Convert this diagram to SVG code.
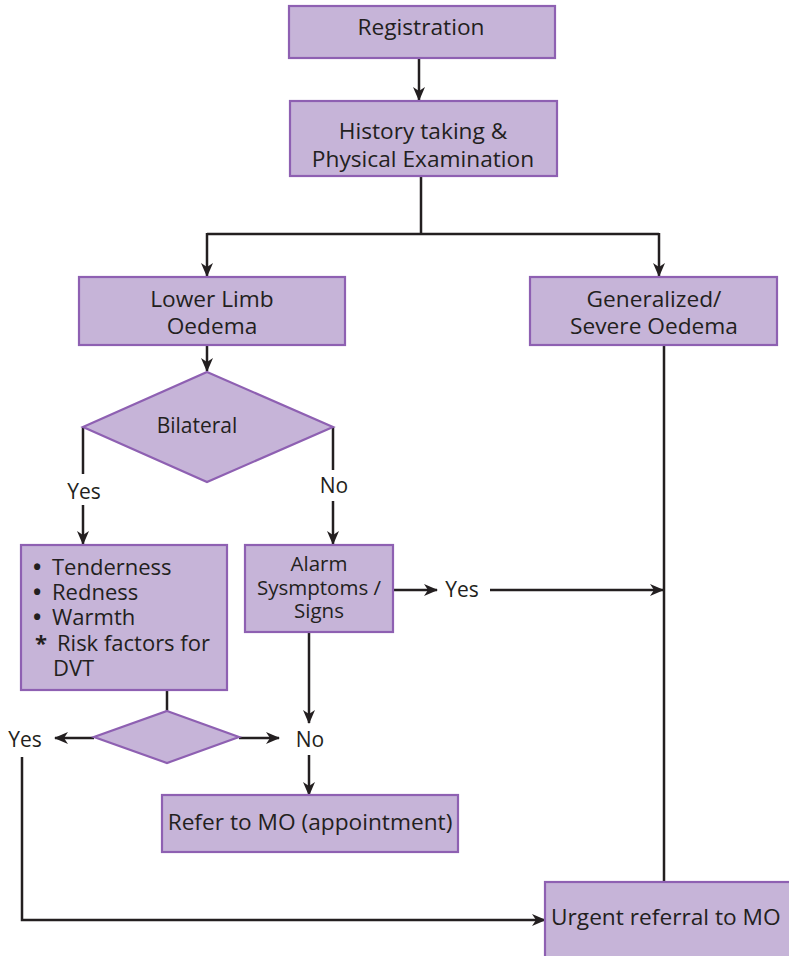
<svg xmlns="http://www.w3.org/2000/svg" width="789" height="956" viewBox="0 0 789 956">
<defs>
<marker id="ah" viewBox="0 0 14 12" refX="13" refY="6" markerWidth="14" markerHeight="12" markerUnits="userSpaceOnUse" orient="auto">
<path d="M0,0 L14,6 L0,12 L4,6 Z" fill="#231f20"/>
</marker>
<style>
.box{fill:#c6b4d8;stroke:#8e60b2;stroke-width:2.2}
.t{font-family:"Open Sans","Noto Sans",sans-serif;font-size:22.7px;fill:#231f20;text-anchor:middle}
.tl{font-family:"Open Sans","Noto Sans",sans-serif;font-size:22px;fill:#231f20}
.lb{font-family:"Open Sans","Noto Sans",sans-serif;font-size:21px;fill:#231f20;text-anchor:middle}
.c{fill:none;stroke:#231f20;stroke-width:2.5}
.a{marker-end:url(#ah)}
.bu{font-weight:bold}
</style>
</defs>
<rect width="789" height="956" fill="#fff"/>
<g id="connectors">
<path class="c a" d="M419,59 V100"/>
<path class="c" d="M421,177 V234 M207,234 H659"/>
<path class="c a" d="M207,233 V276"/>
<path class="c a" d="M659,233 V276"/>
<path class="c a" d="M207,345 V371"/>
<path class="c" d="M83,427 V474"/>
<path class="c a" d="M83,505 V544"/>
<path class="c" d="M333,427 V470"/>
<path class="c a" d="M333,501 V544"/>
<path class="c a" d="M393,590 H437"/>
<path class="c a" d="M490,590 H663"/>
<path class="c" d="M664,345 V882"/>
<path class="c" d="M167,690 V711"/>
<path class="c a" d="M94,738 H55"/>
<path class="c a" d="M239,738 H279"/>
<path class="c a" d="M309,632 V723"/>
<path class="c a" d="M309,755 V795"/>
<path class="c a" d="M22,757 V920 H545"/>
</g>
<g id="registration">
<rect class="box" x="289" y="6" width="266" height="52"/>
<text class="t" x="421" y="35">Registration</text>
</g>
<g id="history">
<rect class="box" x="290" y="101" width="267" height="75"/>
<text class="t" x="423" y="139">History taking &amp;</text>
<text class="t" x="423" y="167">Physical Examination</text>
</g>
<g id="lower-limb">
<rect class="box" x="79" y="277" width="266" height="68"/>
<text class="t" x="212" y="307">Lower Limb</text>
<text class="t" x="212" y="334">Oedema</text>
</g>
<g id="generalized">
<rect class="box" x="530" y="277" width="247" height="68"/>
<text class="t" x="654" y="307">Generalized/</text>
<text class="t" x="654" y="334">Severe Oedema</text>
</g>
<g id="bilateral">
<polygon class="box" points="207,372 333,427 207,482 83,427"/>
<text class="t" x="197" y="433" style="font-size:21px">Bilateral</text>
</g>
<g id="label-yes-1"><text class="lb" x="84" y="499">Yes</text></g>
<g id="label-no-1"><text class="lb" x="334" y="493">No</text></g>
<g id="symptoms">
<rect class="box" x="21" y="545" width="206" height="145"/>
<text class="tl" x="33" y="575"><tspan class="bu">•</tspan><tspan x="52">Tenderness</tspan></text>
<text class="tl" x="33" y="600"><tspan class="bu">•</tspan><tspan x="52">Redness</tspan></text>
<text class="tl" x="33" y="625"><tspan class="bu">•</tspan><tspan x="52">Warmth</tspan></text>
<text class="tl" x="35" y="651"><tspan class="bu">*</tspan><tspan x="57">Risk factors for</tspan></text>
<text class="tl" x="53" y="676">DVT</text>
</g>
<g id="alarm">
<rect class="box" x="245" y="545" width="148" height="87"/>
<text class="t" x="319" y="571" style="font-size:20.5px">Alarm</text>
<text class="t" x="319" y="595" style="font-size:20.5px">Sysmptoms /</text>
<text class="t" x="319" y="618" style="font-size:20.5px">Signs</text>
</g>
<g id="label-yes-2"><text class="lb" x="462" y="597">Yes</text></g>
<g id="decision-2">
<polygon class="box" points="167,711 239,737 167,763 94,737"/>
</g>
<g id="label-yes-3"><text class="lb" x="25" y="747">Yes</text></g>
<g id="label-no-2"><text class="lb" x="310" y="747">No</text></g>
<g id="refer">
<rect class="box" x="162" y="795" width="296" height="57"/>
<text class="t" x="310" y="830">Refer to MO (appointment)</text>
</g>
<g id="urgent">
<rect class="box" x="545" y="882" width="250" height="80"/>
<text class="tl" x="551" y="925" style="font-size:22.7px">Urgent referral to MO</text>
</g>
</svg>
